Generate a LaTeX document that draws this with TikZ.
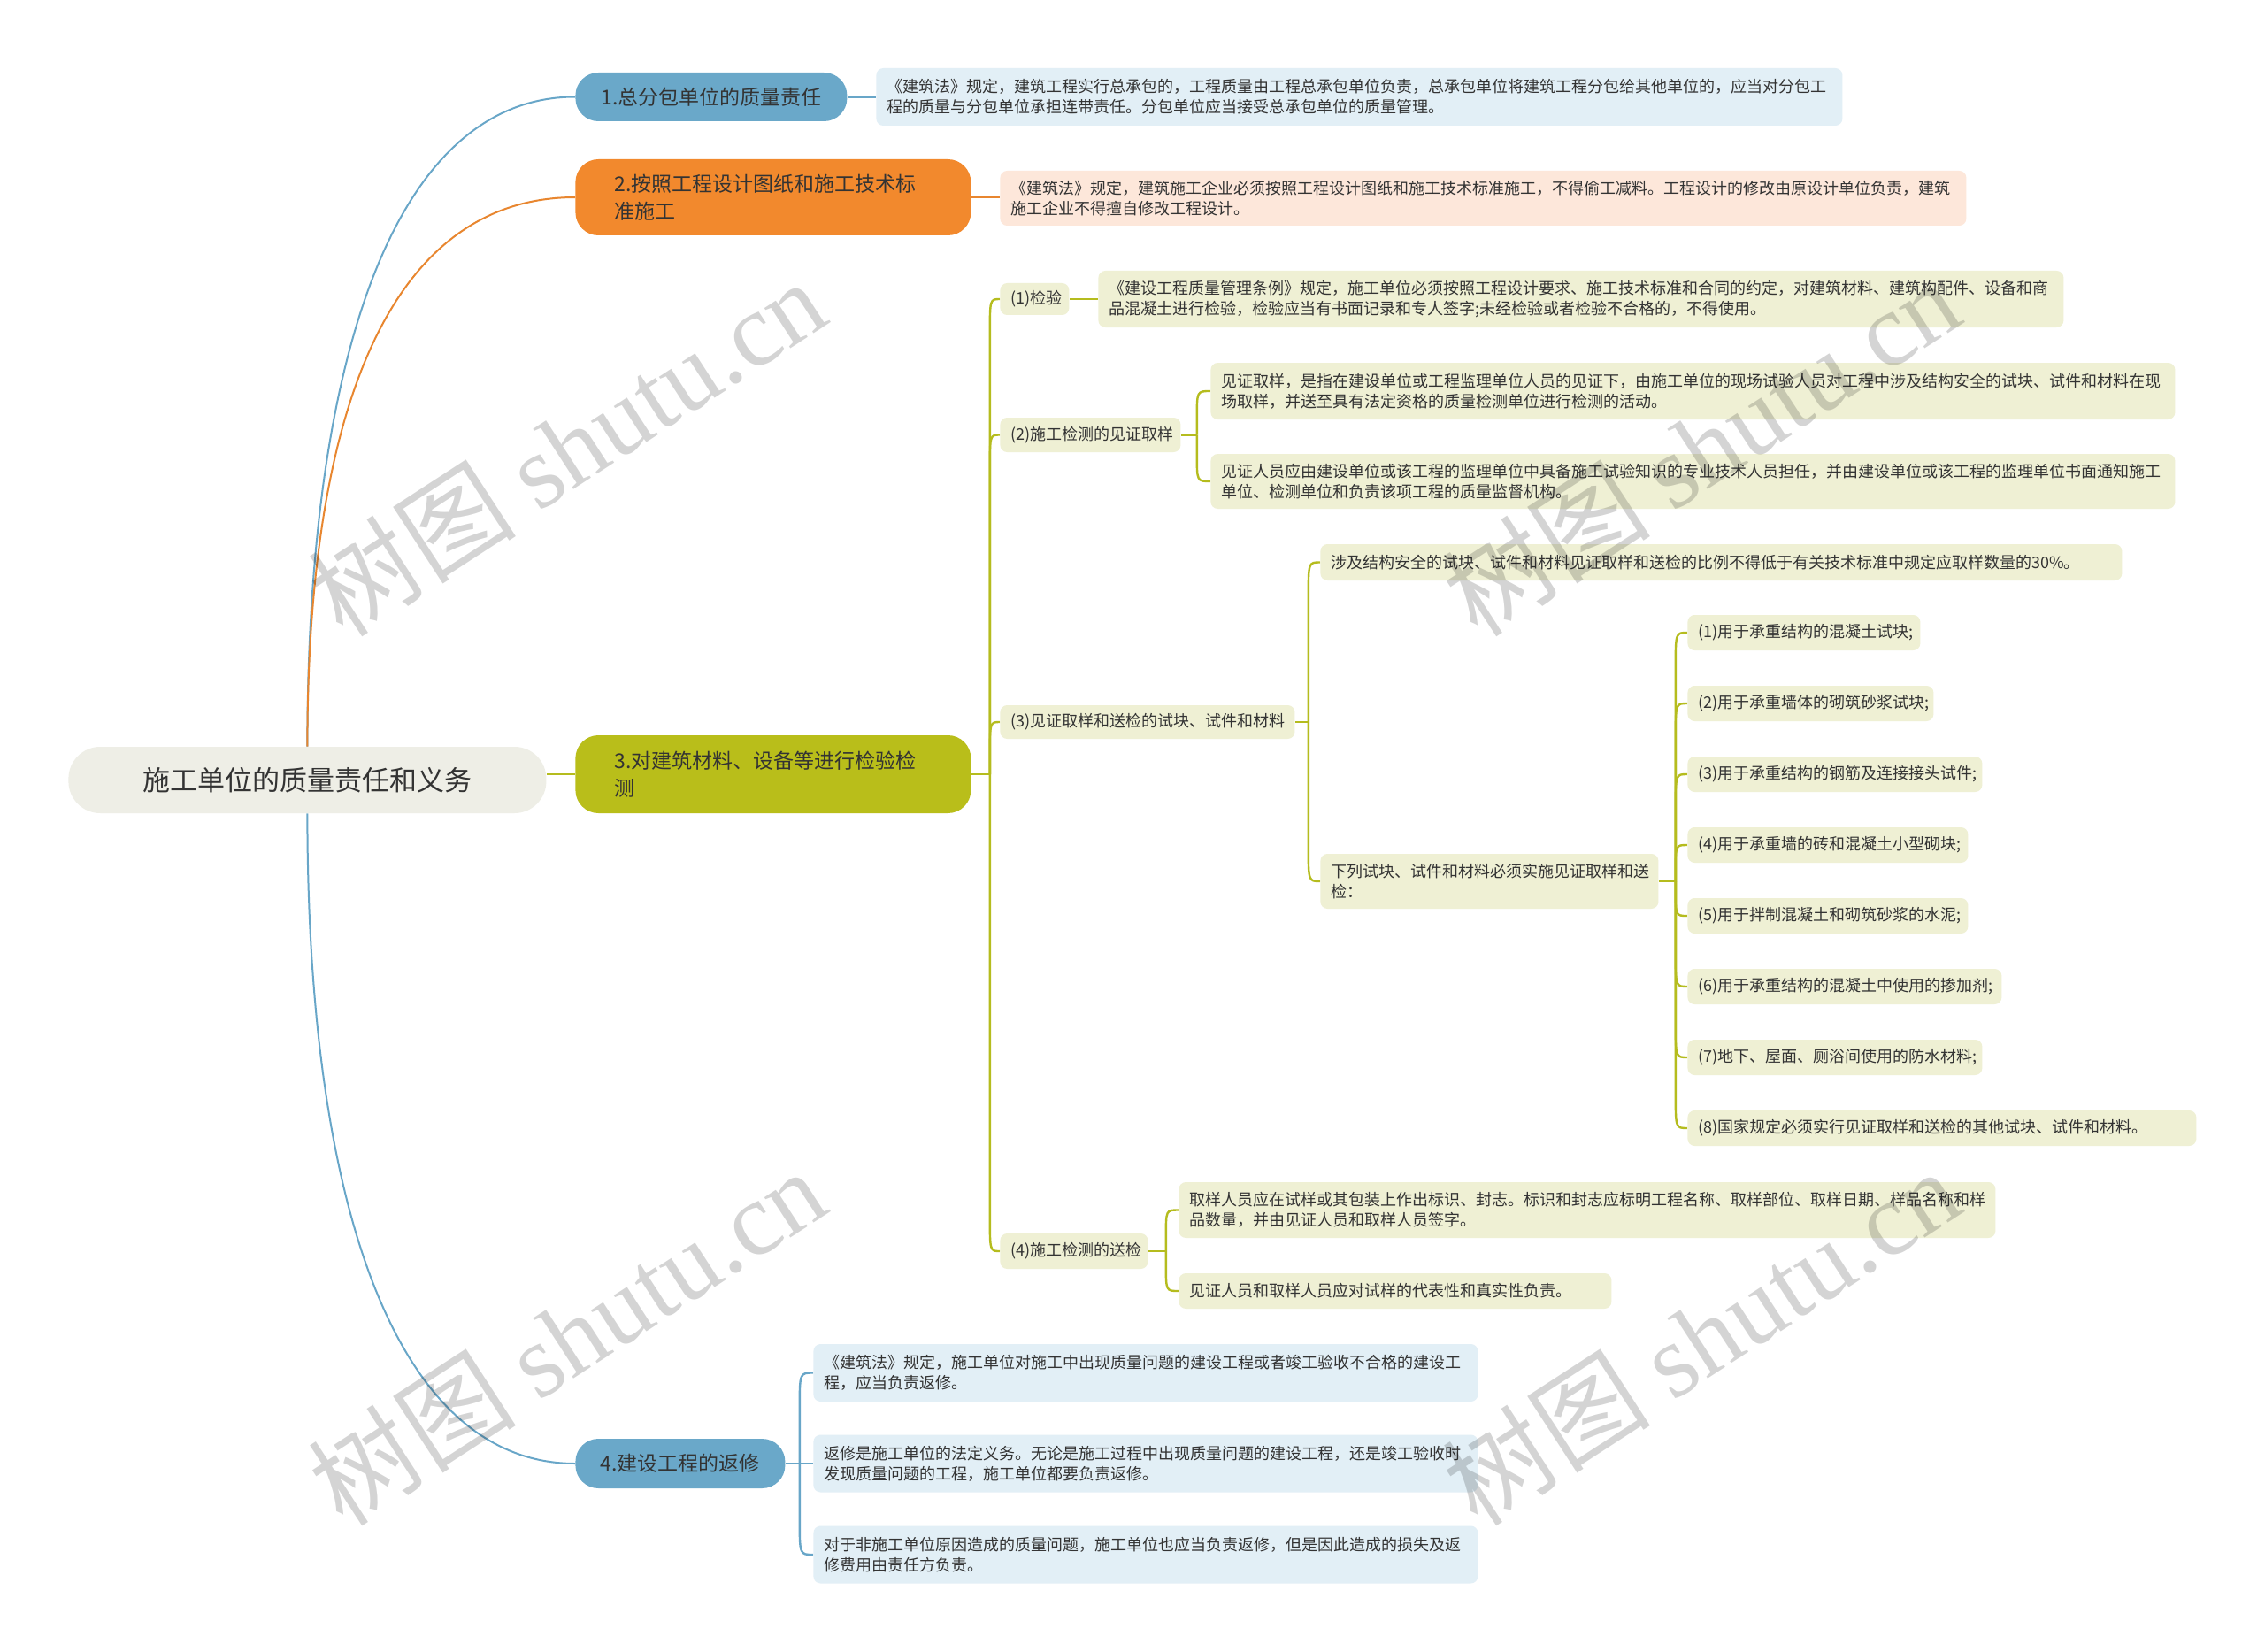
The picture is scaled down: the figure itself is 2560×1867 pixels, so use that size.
\documentclass[tikz,border=0pt]{standalone}
\usepackage{fontspec}
\setmainfont{Noto Sans CJK SC}
\newfontfamily\wmlatin{Liberation Serif}
\usetikzlibrary{calc,backgrounds}
\definecolor{bluebr}{HTML}{6AA8C9}
\definecolor{bluefill}{HTML}{E2EFF6}
\definecolor{bluel}{HTML}{68A6C8}
\definecolor{orbr}{HTML}{F2892D}
\definecolor{orfill}{HTML}{FDE7DA}
\definecolor{orl}{HTML}{E8862F}
\definecolor{grbr}{HTML}{B9BE1A}
\definecolor{grfill}{HTML}{EFF0D4}
\definecolor{grl}{HTML}{B5BC1E}
\definecolor{rootfill}{HTML}{EEEEE6}
\definecolor{txt}{HTML}{333333}
\tikzset{
  elbow/.style={to path={(\tikztostart) -- ($(\tikztostart |- \tikztotarget)+(0,#1)$) .. controls (\tikztostart |- \tikztotarget) .. (\tikztotarget)}},
  box/.style={anchor=west, rounded corners=4pt, inner xsep=6pt, inner ysep=0pt, align=left, text=txt, font=\fontsize{9}{11.5}\selectfont},
  gbox/.style={box, fill=grfill},
  bbox/.style={box, fill=bluefill},
  obox/.style={box, fill=orfill},
  branch/.style={anchor=west, rounded corners=13pt, inner ysep=0pt, text=black!80, font=\fontsize{11.5}{15.5}\selectfont},
  gl/.style={draw=grl, line width=1.2pt},
  bl/.style={draw=bluel, line width=1.2pt},
  ol/.style={draw=orl, line width=1.2pt},
  wm/.style={rotate=33, text=black, text opacity=0.17, font=\fontsize{59}{59}\selectfont}
}
\begin{document}
\begin{tikzpicture}[x=0.5pt,y=-0.5pt]
\useasboundingbox (0,0) rectangle (2560,1867);
% root and branches
\node[anchor=west, fill=rootfill, rounded corners=18pt, minimum width=270pt, minimum height=37.5pt, inner sep=0pt, text=txt, font=\fontsize{15.5}{18}\selectfont] (root) at (77,881.5) {施工单位的质量责任和义务};
\node[branch, fill=bluebr, minimum width=153.5pt, minimum height=27.5pt] (b1) at (650,109.5) {1.总分包单位的质量责任};
\node[branch, fill=orbr, text width=179.5pt, inner xsep=22pt, align=left, minimum height=43pt] (b2) at (650,223) {2.按照工程设计图纸和施工技术标\\准施工};
\node[branch, fill=grbr, text width=179.5pt, inner xsep=22pt, align=left, minimum height=44pt] (b3) at (650,875) {3.对建筑材料、设备等进行检验检\\测};
\node[branch, fill=bluebr, minimum width=118.5pt, minimum height=28pt] (b4) at (650,1654) {4.建设工程的返修};
% branch 1 and 2 details
\node[bbox, text width=534pt, minimum height=32.5pt] (d1) at (990,109.5) {《建筑法》规定，建筑工程实行总承包的，工程质量由工程总承包单位负责，总承包单位将建筑工程分包给其他单位的，应当对分包工\\程的质量与分包单位承担连带责任。分包单位应当接受总承包单位的质量管理。};
\node[obox, text width=534pt, minimum height=31pt] (d2) at (1130,224) {《建筑法》规定，建筑施工企业必须按照工程设计图纸和施工技术标准施工，不得偷工减料。工程设计的修改由原设计单位负责，建筑\\施工企业不得擅自修改工程设计。};
% branch 3
\node[gbox, text width=27pt, minimum height=18pt] (s1) at (1130,338) {(1)检验};
\node[gbox, text width=533.5pt, minimum height=32pt] (s1d) at (1241,338) {《建设工程质量管理条例》规定，施工单位必须按照工程设计要求、施工技术标准和合同的约定，对建筑材料、建筑构配件、设备和商\\品混凝土进行检验，检验应当有书面记录和专人签字;未经检验或者检验不合格的，不得使用。};
\node[gbox, text width=90pt, minimum height=19.5pt] (s2) at (1130,491.5) {(2)施工检测的见证取样};
\node[gbox, text width=533pt, minimum height=32pt] (s2a) at (1368,442) {见证取样，是指在建设单位或工程监理单位人员的见证下，由施工单位的现场试验人员对工程中涉及结构安全的试块、试件和材料在现\\场取样，并送至具有法定资格的质量检测单位进行检测的活动。};
\node[gbox, text width=533pt, minimum height=31pt] (s2b) at (1368,544) {见证人员应由建设单位或该工程的监理单位中具备施工试验知识的专业技术人员担任，并由建设单位或该工程的监理单位书面通知施工\\单位、检测单位和负责该项工程的质量监督机构。};
\node[gbox, text width=154.5pt, minimum height=19pt] (s3) at (1130,816) {(3)见证取样和送检的试块、试件和材料};
\node[gbox, text width=441pt, minimum height=20.5pt] (s3a) at (1492,635.5) {涉及结构安全的试块、试件和材料见证取样和送检的比例不得低于有关技术标准中规定应取样数量的30\%。};
\node[gbox, text width=179pt, minimum height=31pt] (s3b) at (1492,996) {下列试块、试件和材料必须实施见证取样和送\\检：};
\node[gbox, text width=119.5pt, minimum height=20pt] (i1) at (1907,715) {(1)用于承重结构的混凝土试块;};
\node[gbox, text width=127pt, minimum height=20pt] (i2) at (1907,795) {(2)用于承重墙体的砌筑砂浆试块;};
\node[gbox, text width=154.5pt, minimum height=20pt] (i3) at (1907,875) {(3)用于承重结构的钢筋及连接接头试件;};
\node[gbox, text width=146.5pt, minimum height=20pt] (i4) at (1907,955) {(4)用于承重墙的砖和混凝土小型砌块;};
\node[gbox, text width=146.5pt, minimum height=20pt] (i5) at (1907,1035) {(5)用于拌制混凝土和砌筑砂浆的水泥;};
\node[gbox, text width=165.5pt, minimum height=20pt] (i6) at (1907,1115) {(6)用于承重结构的混凝土中使用的掺加剂;};
\node[gbox, text width=154.5pt, minimum height=20pt] (i7) at (1907,1195) {(7)地下、屋面、厕浴间使用的防水材料;};
\node[gbox, text width=275.5pt, minimum height=20pt] (i8) at (1907,1275) {(8)国家规定必须实行见证取样和送检的其他试块、试件和材料。};
\node[gbox, text width=71.5pt, minimum height=20pt] (s4) at (1130,1414) {(4)施工检测的送检};
\node[gbox, text width=449.5pt, minimum height=31.5pt] (s4a) at (1332,1367.5) {取样人员应在试样或其包装上作出标识、封志。标识和封志应标明工程名称、取样部位、取样日期、样品名称和样\\品数量，并由见证人员和取样人员签字。};
\node[gbox, text width=232.5pt, minimum height=20pt] (s4b) at (1332,1459) {见证人员和取样人员应对试样的代表性和真实性负责。};
% branch 4
\node[bbox, text width=363.5pt, minimum height=32.5pt] (r1) at (919,1551.5) {《建筑法》规定，施工单位对施工中出现质量问题的建设工程或者竣工验收不合格的建设工\\程，应当负责返修。};
\node[bbox, text width=363.5pt, minimum height=32.5pt] (r2) at (919,1654) {返修是施工单位的法定义务。无论是施工过程中出现质量问题的建设工程，还是竣工验收时\\发现质量问题的工程，施工单位都要负责返修。};
\node[bbox, text width=363.5pt, minimum height=32.5pt] (r3) at (919,1757) {对于非施工单位原因造成的质量问题，施工单位也应当负责返修，但是因此造成的损失及返\\修费用由责任方负责。};
% connectors
\begin{pgfonlayer}{background}
\fill[white] (0,0) rectangle (2560,1867);
\draw[bl, line width=1pt] (root.north) .. controls ($(root.north)+(0,-450)$) and ($(b1.west)+(-200,0)$) .. (b1.west);
\draw[ol, line width=1pt] (root.north) .. controls ($(root.north)+(0,-400)$) and ($(b2.west)+(-200,0)$) .. (b2.west);
\draw[gl] (b3.west -| root.east) -- (b3.west);
\draw[bl, line width=1pt] (root.south) .. controls ($(root.south)+(0,450)$) and ($(b4.west)+(-200,0)$) .. (b4.west);
\draw[bl] (b1.east) -- (b1.east -| d1.west);
\draw[ol] (b2.east) -- (b2.east -| d2.west);
\coordinate (j3) at ($(b3.east)+(21,0)$);
\draw[gl] (b3.east) -- (j3);
\draw[gl] (j3) to[elbow=40] (s1.west);
\draw[gl] (j3) to[elbow=40] (s2.west);
\draw[gl] (j3) to[elbow=40] (s3.west);
\draw[gl] (j3) to[elbow=-40] (s4.west);
\draw[gl] (s1.east) -- (s1.east -| s1d.west);
\coordinate (j2) at ($(s2.east)+(18,0)$);
\draw[gl] (s2.east) -- (j2);
\draw[gl] (j2) to[elbow=30] (s2a.west);
\draw[gl] (j2) to[elbow=-30] (s2b.west);
\coordinate (jx) at ($(s3.east)+(15,0)$);
\draw[gl] (s3.east) -- (jx);
\draw[gl] (jx) to[elbow=40] (s3a.west);
\draw[gl] (jx) to[elbow=-40] (s3b.west);
\coordinate (jl) at ($(s3b.east)+(19,0)$);
\draw[gl] (s3b.east) -- (jl);
\draw[gl] (jl) to[elbow=40] (i1.west);
\draw[gl] (jl) to[elbow=40] (i2.west);
\draw[gl] (jl) to[elbow=40] (i3.west);
\draw[gl] (jl) to[elbow=30] (i4.west);
\draw[gl] (jl) to[elbow=-30] (i5.west);
\draw[gl] (jl) to[elbow=-40] (i6.west);
\draw[gl] (jl) to[elbow=-40] (i7.west);
\draw[gl] (jl) to[elbow=-40] (i8.west);
\coordinate (j4) at ($(s4.east)+(20,0)$);
\draw[gl] (s4.east) -- (j4);
\draw[gl] (j4) to[elbow=30] (s4a.west);
\draw[gl] (j4) to[elbow=-30] (s4b.west);
\coordinate (jr) at ($(b4.east)+(16,0)$);
\draw[bl] (b4.east) -- (jr);
\draw[bl] (jr) to[elbow=40] (r1.west);
\draw[bl] (jr) -- (r2.west);
\draw[bl] (jr) to[elbow=-40] (r3.west);
\end{pgfonlayer}
% watermarks
\node[wm] (w1) at (640,505) {树图 {\wmlatin shutu.cn}};
\node[wm] (w2) at (1922,505) {树图 {\wmlatin shutu.cn}};
\node[wm] (w3) at (640,1510) {树图 {\wmlatin shutu.cn}};
\node[wm] (w4) at (1922,1510) {树图 {\wmlatin shutu.cn}};
\end{tikzpicture}
\end{document}
